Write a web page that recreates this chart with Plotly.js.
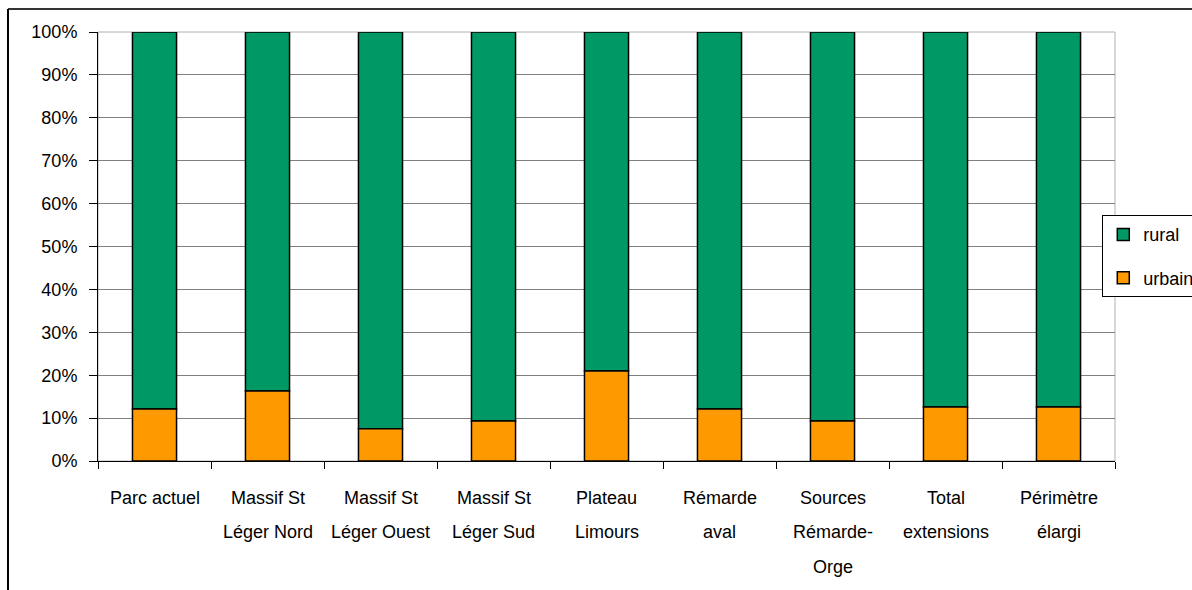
<!DOCTYPE html>
<html>
<head>
<meta charset="utf-8">
<script src="https://cdn.plot.ly/plotly-3.0.1.min.js"></script>
<style>
html,body{margin:0;padding:0;background:#fff;}
#chart{width:1192px;height:590px;}
</style>
</head>
<body>
<div id="chart"></div>
<script>
// Data
var categories = ["Parc actuel", "Massif St Léger Nord", "Massif St Léger Ouest", "Massif St Léger Sud", "Plateau Limours", "Rémarde aval", "Sources Rémarde-Orge", "Total extensions", "Périmètre élargi"];
var categoryLines = [
  ["Parc actuel"],
  ["Massif St", "Léger Nord"],
  ["Massif St", "Léger Ouest"],
  ["Massif St", "Léger Sud"],
  ["Plateau", "Limours"],
  ["Rémarde", "aval"],
  ["Sources", "Rémarde-", "Orge"],
  ["Total", "extensions"],
  ["Périmètre", "élargi"]
];
var urbain = [12.1, 16.3, 7.5, 9.3, 21.0, 12.1, 9.3, 12.6, 12.6];
var rural = [87.9, 83.7, 92.5, 90.7, 79.0, 87.9, 90.7, 87.4, 87.4];
var yTickVals = [0, 10, 20, 30, 40, 50, 60, 70, 80, 90, 100];
var yTickText = ["0%", "10%", "20%", "30%", "40%", "50%", "60%", "70%", "80%", "90%", "100%"];

var FONT = "Liberation Sans, Arial, sans-serif";

var traces = [
  {
    type: "bar", name: "rural", x: categories, y: rural,
    marker: {color: "#009966", line: {color: "#000", width: 1.5}},
    legendgroup: "r", hoverinfo: "x+y"
  },
  {
    type: "bar", name: "urbain", x: categories, y: urbain,
    marker: {color: "#FF9900", line: {color: "#000", width: 1.5}},
    legendgroup: "u", hoverinfo: "x+y"
  }
];
// stack urbain at the bottom: base values
traces[0].base = urbain;

var annotations = [];
var lineOffsets = [37, 71, 106];
categoryLines.forEach(function (lines, i) {
  lines.forEach(function (t, j) {
    annotations.push({
      x: categories[i], xref: "x", y: 0, yref: "paper",
      text: t, showarrow: false, xanchor: "center", yanchor: "middle",
      yshift: -lineOffsets[j],
      font: {family: FONT, size: 18, color: "#000"}
    });
  });
});

var layout = {
  width: 1192, height: 590,
  margin: {l: 98, r: 77, t: 32, b: 129, autoexpand: false},
  paper_bgcolor: "#fff", plot_bgcolor: "#fff",
  barmode: "overlay", bargap: 0.61,
  showlegend: true,
  legend: {
    x: 0.9875, xanchor: "left", y: 0.573, yanchor: "top",
    bordercolor: "#000", borderwidth: 1, bgcolor: "#fff",
    font: {family: FONT, size: 18, color: "#000"},
    traceorder: "grouped", tracegroupgap: 17
  },
  xaxis: {
    type: "category", showticklabels: false, showgrid: false,
    ticks: "outside", tickson: "boundaries", ticklen: 7, tickcolor: "#000", tickwidth: 1,
    showline: true, linecolor: "#000", linewidth: 1, zeroline: false,
    fixedrange: true
  },
  yaxis: {
    range: [0, 100], tickvals: yTickVals, ticktext: yTickText,
    ticks: "outside", ticklen: 8, tickcolor: "#000", tickwidth: 1,
    ticklabelstandoff: 8,
    showgrid: true, gridcolor: "#808080", gridwidth: 1,
    showline: true, linecolor: "#000", linewidth: 1, zeroline: false,
    tickfont: {family: FONT, size: 18, color: "#000"},
    fixedrange: true
  },
  annotations: annotations,
  shapes: [
    {type: "rect", xref: "paper", yref: "paper", x0: 0, x1: 1, y0: 0, y1: 1,
     line: {color: "#b0b0b0", width: 1}, layer: "below"},
    {type: "line", xref: "paper", yref: "paper", x0: -0.0885, x1: 1.1, y0: 1.0536, y1: 1.0536,
     line: {color: "#333", width: 2}},
    {type: "line", xref: "paper", yref: "paper", x0: -0.0885, x1: -0.0885, y0: 1.0536, y1: -0.4,
     line: {color: "#000", width: 2}}
  ]
};

Plotly.newPlot("chart", traces, layout, {displayModeBar: false, staticPlot: true});
</script>
</body>
</html>
